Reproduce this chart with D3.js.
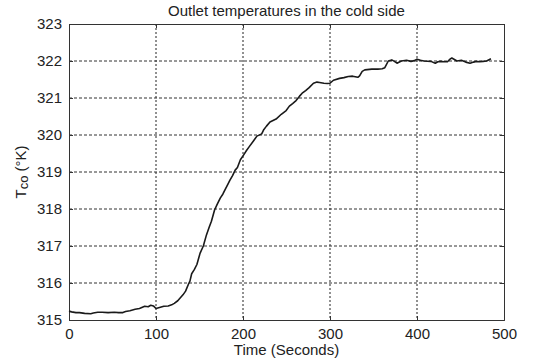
<!DOCTYPE html>
<html>
<head>
<meta charset="utf-8">
<script src="https://cdn.jsdelivr.net/npm/d3@7"></script>
<style>
  body { margin: 0; background: #fff; }
  text { font-family: "Liberation Sans", Arial, sans-serif; fill: #222; }
</style>
</head>
<body>
<div id="canvas"></div>
<script>
var margin = {top: 24, right: 30, bottom: 40, left: 69},
width = 534 - margin.left - margin.right,
height = 360 - margin.top - margin.bottom;

// data
const time = [0, 3, 8, 12, 18, 25, 28, 33, 38, 45, 52, 57, 62, 65, 70, 76, 81, 87, 91, 94,
  97, 100, 103, 106, 109, 114, 118, 121, 125, 128, 131, 134, 137.5, 139, 141, 144, 147, 150.6, 154.4, 158,
  161, 163.7, 167.4, 171, 174, 176.8, 180, 182.4, 185, 188, 191, 193.6, 197, 201, 204, 207, 212, 216, 221.5, 224,
  227, 231, 238, 244, 249.6, 253.3, 257, 261, 265, 268, 272, 276, 281, 285, 288, 293, 297, 300, 304, 311,
  316, 321, 326, 332, 334, 337, 340, 348, 355, 360, 363, 367, 371, 374, 377, 382, 388, 393, 397, 400,
  404, 408, 416, 421, 424, 427, 431, 435, 438, 440, 443, 446, 451, 456, 461, 465, 468, 472, 476, 480, 485]
const tco = [315.24, 315.22, 315.2, 315.2, 315.18, 315.17, 315.19, 315.21, 315.21, 315.2, 315.21, 315.2, 315.2, 315.23, 315.25, 315.29, 315.31, 315.37, 315.36, 315.4,
  315.38, 315.31, 315.33, 315.35, 315.37, 315.38, 315.41, 315.45, 315.52, 315.6, 315.68, 315.78, 315.98, 316.05, 316.25, 316.36, 316.5, 316.8, 317.0, 317.3,
  317.5, 317.67, 317.98, 318.16, 318.3, 318.4, 318.55, 318.66, 318.78, 318.9, 319.05, 319.12, 319.33, 319.47, 319.58, 319.68, 319.84, 319.97, 320.03, 320.15,
  320.24, 320.35, 320.43, 320.56, 320.66, 320.78, 320.85, 320.93, 321.05, 321.13, 321.2, 321.28, 321.4, 321.43, 321.42, 321.4, 321.39, 321.4, 321.48, 321.53,
  321.55, 321.58, 321.59, 321.56, 321.6, 321.72, 321.76, 321.78, 321.78, 321.79, 321.82, 322.0, 322.03, 321.99, 321.94, 322.0, 322.02, 321.99, 322.01, 322.05,
  322.02, 322.0, 321.99, 321.94, 321.98, 321.99, 321.98, 321.98, 322.05, 322.08, 322.04, 322.0, 322.02, 321.97, 321.94, 321.97, 321.99, 321.98, 321.99, 322.0, 322.06]

const xTicks = [0, 100, 200, 300, 400, 500]
const yTicks = [315, 316, 317, 318, 319, 320, 321, 322, 323]

const svg = d3.select("#canvas")
        .append("svg")
            .attr("width", width + margin.left + margin.right)
            .attr("height", height + margin.top + margin.bottom)

const canvas = svg.append("g")
            .attr("transform", "translate(" + margin.left + "," + margin.top + ")")

const xScale = d3.scaleLinear().domain([0, 500]).range([0, width])
const yScale = d3.scaleLinear().domain([315, 323]).range([height, 0])

// grid
canvas.append("g")
    .selectAll("line")
    .data(xTicks.slice(1, -1))
    .join("line")
        .attr("x1", d => xScale(d)).attr("x2", d => xScale(d))
        .attr("y1", 0).attr("y2", height)
        .attr("stroke", "#222")
        .attr("stroke-dasharray", "2,2")

canvas.append("g")
    .selectAll("line")
    .data(yTicks.slice(1, -1))
    .join("line")
        .attr("y1", d => yScale(d)).attr("y2", d => yScale(d))
        .attr("x1", 0).attr("x2", width)
        .attr("stroke", "#333")
        .attr("stroke-dasharray", "3,2")

// axes, ticks pointing in like matlab
canvas.append("g")
    .attr("transform", "translate(0," + height + ")")
    .call(d3.axisBottom(xScale).tickValues(xTicks).tickSize(-4).tickPadding(8))
canvas.append("g")
    .call(d3.axisLeft(yScale).tickValues(yTicks).tickSize(-4).tickPadding(7))

canvas.append("g")
    .attr("transform", "translate(" + width + ",0)")
    .call(d3.axisRight(yScale).tickValues(yTicks).tickSize(-4).tickFormat(""))
canvas.append("g")
    .call(d3.axisTop(xScale).tickValues(xTicks).tickSize(-4).tickFormat(""))

canvas.selectAll(".domain").attr("stroke", "#333")
canvas.selectAll(".tick line").attr("stroke", "#333")
canvas.selectAll(".tick text")
    .style("font-size", "15px")
    .style("font-family", "'Liberation Sans', Arial, sans-serif")
    .attr("fill", "#222")

// line
const line = d3.line()
    .x((d, i) => xScale(time[i]))
    .y(d => yScale(d))

canvas.append("path")
    .datum(tco)
    .attr("fill", "none")
    .attr("stroke", "#1a1a1a")
    .attr("stroke-width", 1.6)
    .attr("stroke-linejoin", "round")
    .attr("d", line)

// titles
svg.append("text")
    .attr("x", margin.left + width / 2)
    .attr("y", 16)
    .attr("text-anchor", "middle")
    .style("font-size", "15px")
    .text("Outlet temperatures in the cold side")

svg.append("text")
    .attr("x", margin.left + width / 2)
    .attr("y", 355)
    .attr("text-anchor", "middle")
    .style("font-size", "15px")
    .text("Time (Seconds)")

const ylab = svg.append("text")
    .attr("transform", "translate(26," + (margin.top + height / 2) + ") rotate(-90)")
    .attr("text-anchor", "middle")
    .style("font-size", "15px")
ylab.append("tspan").text("T")
ylab.append("tspan").attr("dy", 2).style("font-size", "13px").text("co")
ylab.append("tspan").attr("dy", -2).text(" (°K)")
</script>
</body>
</html>
